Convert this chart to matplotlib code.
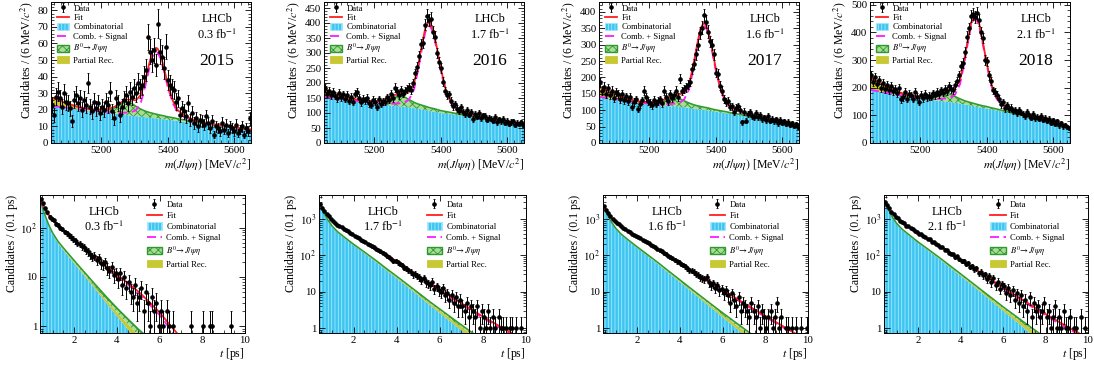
import numpy as np
import matplotlib
matplotlib.use('Agg')
import matplotlib.pyplot as plt
from matplotlib.patches import Patch
from matplotlib.lines import Line2D
from matplotlib.ticker import MultipleLocator, FixedLocator, LogLocator, NullFormatter, FuncFormatter

plt.rcParams['font.family'] = ['Liberation Serif', 'DejaVu Serif']
plt.rcParams['mathtext.fontset'] = 'stix'
plt.rcParams['hatch.linewidth'] = 0.6

years = ['2015', '2016', '2017', '2018']
lumis = ['0.3', '1.7', '1.6', '2.1']

# ---- mass fit: data, 6 MeV bins from 5050 to 5650
mass_data_2015 = [23, 17, 28, 31, 27, 22, 30, 25, 24, 21,
                  13, 26, 29, 24, 27, 20, 26, 23, 36, 22,
                  19, 25, 21, 24, 18, 22, 20, 25, 23, 31,
                  19, 15, 27, 24, 17, 22, 26, 29, 24, 31,
                  28, 33, 30, 36, 33, 35, 40, 44, 64, 55,
                  50, 56, 47, 72, 55, 52, 45, 58, 38, 35,
                  33, 32, 25, 27, 17, 21, 19, 16, 24, 14,
                  18, 12, 15, 10, 14, 13, 11, 16, 12, 9,
                  13, 5, 10, 9, 7, 12, 8, 11, 6, 10,
                  9, 7, 11, 6, 8, 10, 5, 9, 7, 15]
mass_data_2016 = [182, 165, 175, 160, 170, 158, 150, 166, 152, 162,
                  148, 160, 141, 155, 138, 165, 170, 150, 136, 148,
                  142, 150, 133, 128, 144, 137, 120, 146, 131, 139,
                  138, 152, 145, 163, 150, 185, 172, 160, 178, 165,
                  175, 180, 186, 178, 200, 232, 255, 290, 330, 335,
                  395, 425, 410, 415, 370, 355, 300, 270, 250, 205,
                  175, 160, 162, 140, 122, 130, 115, 108, 120, 104,
                  98, 110, 95, 102, 80, 96, 88, 99, 84, 92,
                  90, 78, 85, 81, 74, 86, 70, 79, 72, 80,
                  68, 75, 64, 70, 72, 61, 67, 63, 69, 60]
mass_data_2017 = [185, 160, 172, 150, 168, 145, 160, 138, 155, 150,
                  135, 148, 130, 142, 128, 140, 110, 125, 133, 104,
                  118, 130, 160, 140, 128, 122, 115, 132, 120, 128,
                  133, 122, 160, 140, 128, 150, 138, 145, 160, 140,
                  196, 158, 165, 170, 178, 186, 225, 240, 270, 300,
                  335, 352, 390, 370, 340, 310, 300, 270, 215, 210,
                  175, 160, 135, 125, 128, 110, 112, 95, 108, 112,
                  102, 63, 96, 68, 88, 95, 82, 80, 90, 79,
                  84, 72, 78, 70, 82, 68, 74, 66, 72, 61,
                  70, 62, 66, 58, 64, 55, 60, 52, 57, 50]
mass_data_2018 = [245, 222, 238, 215, 228, 200, 218, 195, 210, 190,
                  205, 188, 196, 180, 200, 158, 165, 185, 160, 178,
                  172, 160, 185, 168, 150, 175, 162, 178, 165, 170,
                  168, 180, 172, 185, 176, 190, 182, 195, 188, 205,
                  196, 190, 210, 225, 245, 280, 290, 330, 385, 415,
                  460, 465, 455, 470, 445, 400, 380, 300, 295, 245,
                  225, 190, 185, 175, 160, 140, 148, 125, 138, 122,
                  128, 115, 120, 108, 118, 110, 104, 96, 112, 100,
                  92, 104, 90, 95, 88, 98, 85, 92, 80, 88,
                  74, 82, 70, 78, 64, 72, 60, 66, 58, 55]

# ---- mass fit components, read at these masses
mass_grid = [5050, 5075, 5100, 5125, 5150, 5175, 5200, 5220, 5240, 5260, 5275, 5290,
             5305, 5320, 5332, 5344, 5354, 5362, 5366, 5370, 5378, 5388, 5400, 5415,
             5430, 5450, 5475, 5500, 5530, 5570, 5610, 5650]

comb_m_2015 = [22.5, 21.8, 21.1, 20.5, 19.9, 19.3, 18.7, 18.2, 17.7, 17.2, 16.9, 16.5,
               16.2, 15.9, 15.6, 15.3, 15.1, 14.9, 14.8, 14.7, 14.5, 14.3, 14.0, 13.7,
               13.3, 12.9, 12.3, 11.7, 11.0, 10.0, 9.0, 8.0]
comb_m_2016 = [154, 150, 147, 143, 139, 135, 132, 129, 126, 124, 122, 121,
               119, 116, 114, 112, 110, 108, 107, 106, 105, 103, 100, 98,
               96, 93, 90, 86, 81, 75, 69, 62]
comb_m_2017 = [141, 137, 133, 129, 125, 121, 118, 116, 114, 112, 111, 110,
               109, 107, 105, 103, 102, 101, 100.5, 100, 99, 97, 95, 93,
               91, 88, 85, 81, 76, 68, 60, 51]
comb_m_2018 = [193, 187, 181, 175, 170, 165, 161, 158, 155, 152, 150, 148,
               146, 143, 140, 137, 135, 133, 132, 131, 129, 127, 125, 121,
               118, 113, 107, 101, 94, 83, 71, 57]

part_m_2015 = [5, 3.8, 2.5, 1.5, 0.8, 0.35, 0.15, 0.05] + [0] * 24
part_m_2016 = [22, 16.5, 11, 6.6, 3.5, 1.5, 0.7, 0.2] + [0] * 24
part_m_2017 = [30, 22.5, 15, 9, 4.8, 2.1, 0.9, 0.3] + [0] * 24
part_m_2018 = [43, 32, 21.5, 13, 6.9, 3, 1.3, 0.4] + [0] * 24

b0_m_2015 = [0, 0, 0.04, 0.08, 0.16, 0.4, 0.96, 1.76, 3.36, 6.24, 7.84, 7.6,
             5.92, 4.48, 3.68, 3.2, 2.88, 2.64, 2.56, 2.48, 2.32, 2.08, 1.84, 1.6,
             1.36, 1.04, 0.56, 0.2, 0.04, 0, 0, 0]
b0_m_2016 = [0, 0, 0.2, 0.4, 0.7, 1.8, 4.2, 7.7, 14.7, 27.3, 34.3, 33.3,
             25.9, 19.6, 16.1, 14, 12.6, 11.6, 11.2, 10.9, 10.2, 9.1, 8.1, 7,
             6, 4.6, 2.5, 0.9, 0.2, 0, 0, 0]
b0_m_2017 = [0, 0, 0.1, 0.3, 0.5, 1.4, 3.2, 5.9, 11.3, 21.1, 26.5, 25.7,
             20, 15.1, 12.4, 10.8, 9.7, 8.9, 8.6, 8.4, 7.8, 7, 6.2, 5.4,
             4.6, 3.5, 1.9, 0.7, 0.1, 0, 0, 0]
b0_m_2018 = [0, 0, 0.2, 0.3, 0.6, 1.5, 3.6, 6.6, 12.6, 23.4, 29.4, 28.5,
             22.2, 16.8, 13.8, 12, 10.8, 9.9, 9.6, 9.3, 8.7, 7.8, 6.9, 6,
             5.1, 3.9, 2.1, 0.8, 0.2, 0, 0, 0]

sig_m_2015 = [0, 0, 0.1, 0.1, 0.2, 0.2, 0.4, 0.5, 0.7, 1.0, 1.4, 2.0,
              3.6, 8.8, 18, 28.8, 36.8, 39.6, 40, 39.6, 36.8, 29.6, 20, 10.4,
              5.2, 2.6, 1.4, 0.9, 0.6, 0.3, 0.2, 0.1]
sig_m_2016 = [0, 0, 0.6, 0.8, 1.1, 1.7, 2.5, 3.4, 4.8, 7.1, 9.9, 14.2,
              25.5, 62.3, 127, 204, 260, 280, 283, 280, 260, 209, 142, 74,
              37, 18.4, 9.9, 6.2, 4.0, 2.3, 1.4, 0.8]
sig_m_2017 = [0, 0, 0.5, 0.8, 1.0, 1.5, 2.3, 3.1, 4.4, 6.4, 9.0, 12.8,
              23, 56.3, 115, 184, 236, 253, 256, 253, 236, 189, 128, 67,
              33, 16.6, 9.0, 5.6, 3.6, 2.0, 1.3, 0.8]
sig_m_2018 = [0, 0, 0.6, 0.9, 1.3, 1.9, 2.8, 3.8, 5.4, 7.9, 11.1, 15.8,
              28.4, 69.5, 142, 228, 291, 313, 316, 313, 291, 234, 158, 82,
              41, 20.5, 11.1, 7.0, 4.4, 2.5, 1.6, 0.9]

# ---- decay time: data, 0.1 ps bins from 0.4 to 10 ps
time_data_2015 = [380, 310, 245, 205, 165, 150,
                  140, 120, 112, 100, 95, 82, 78, 70, 65, 60,
                  55, 50, 47, 42, 40, 35, 33, 29, 26, 27,
                  22, 24, 19, 18, 20, 15, 13, 16, 11, 12,
                  9, 12, 7, 10, 6, 8, 5, 4, 7, 3,
                  4, 6, 2, 5, 3, 1, 4, 2, 3, 1,
                  2, 1, 0, 2, 1, 0, 1, 0, 0, 0,
                  0, 0, 0, 0, 1, 0, 0, 0, 0, 0,
                  1, 0, 0, 1, 1, 0, 0, 0, 0, 0,
                  0, 0, 0, 1, 0, 0, 0, 0, 0, 0]
time_data_2016 = [2600, 2050, 1700, 1420, 1180, 1000,
                  900, 800, 700, 660, 590, 540, 500, 455, 420, 385,
                  350, 330, 300, 270, 250, 232, 210, 190, 178, 165,
                  150, 140, 128, 118, 108, 96, 88, 82, 72, 70,
                  64, 58, 54, 46, 44, 40, 35, 30, 31, 27,
                  25, 21, 24, 18, 17, 15, 19, 12, 14, 11,
                  10, 13, 8, 9, 6, 8, 5, 7, 4, 6,
                  4, 3, 5, 2, 4, 3, 2, 4, 1, 3,
                  2, 1, 3, 1, 2, 1, 0, 2, 1, 1,
                  1, 0, 1, 1, 0, 1, 0, 1, 0, 0]
time_data_2017 = [2250, 1800, 1500, 1250, 1030, 900,
                  780, 720, 640, 580, 530, 480, 445, 400, 375, 345,
                  315, 295, 270, 250, 228, 215, 198, 180, 165, 150,
                  138, 128, 116, 110, 98, 90, 84, 76, 68, 65,
                  58, 55, 50, 45, 40, 38, 35, 31, 29, 25,
                  24, 22, 26, 18, 15, 17, 13, 15, 11, 12,
                  9, 11, 8, 5, 9, 6, 4, 7, 3, 5,
                  4, 3, 2, 5, 3, 2, 4, 1, 3, 2,
                  1, 2, 3, 1, 2, 5, 1, 2, 0, 1,
                  1, 0, 1, 0, 1, 0, 1, 0, 0, 1]
time_data_2018 = [2950, 2380, 1990, 1580, 1380, 1140,
                  1050, 890, 830, 760, 665, 640, 555, 540, 470, 450,
                  400, 380, 335, 320, 280, 275, 240, 232, 205, 190,
                  172, 168, 145, 140, 118, 112, 108, 90, 95, 78,
                  72, 70, 58, 62, 48, 52, 41, 45, 32, 36,
                  28, 30, 22, 27, 18, 24, 15, 19, 12, 16,
                  14, 9, 13, 8, 11, 6, 9, 5, 8, 4,
                  6, 3, 7, 2, 5, 3, 4, 2, 3, 5,
                  2, 3, 1, 2, 4, 1, 2, 1, 3, 1,
                  1, 2, 0, 1, 1, 0, 2, 0, 1, 0]

# ---- decay time fit components, read at these times
time_grid = [0.4, 0.6, 0.8, 1.0, 1.25, 1.5, 2, 2.5, 3, 3.5, 4, 4.5,
             5, 5.5, 6, 6.5, 7, 7.5, 8, 8.5, 9, 9.5, 10]

comb_t_2015 = [360, 190, 110, 72, 48, 35, 19, 10.3, 5.6, 3.0, 1.62, 0.88,
               0.47, 0.26, 0.14, 0.075, 0.04, 0.022, 0.012, 0.0065, 0.0035, 0.0019, 0.001]
comb_t_2016 = [2700, 1550, 930, 620, 430, 325, 190, 115, 69, 40, 23.5, 13.7,
               7.9, 4.5, 2.6, 1.5, 0.86, 0.5, 0.29, 0.17, 0.1, 0.06, 0.035]
comb_t_2017 = [2200, 1300, 790, 530, 365, 275, 160, 95, 56, 32, 18.5, 10.6,
               6.1, 3.5, 2.0, 1.15, 0.66, 0.38, 0.22, 0.13, 0.075, 0.043, 0.025]
comb_t_2018 = [3100, 1800, 1080, 720, 500, 380, 220, 133, 80, 47, 27.5, 16,
               9.2, 5.3, 3.0, 1.75, 1.0, 0.58, 0.33, 0.19, 0.11, 0.06, 0.035]

part_t_2015 = [4, 3.2, 2.6, 2.1, 1.7, 1.4, 0.95, 0.7, 0.52, 0.4, 0.3, 0.24,
               0.19, 0.15, 0.11, 0.085, 0.065, 0.05, 0.038, 0.029, 0.022, 0.017, 0.013]
part_t_2016 = [26, 19, 14, 10, 7.8, 6, 4.3, 3.3, 2.4, 1.8, 1.3, 0.95,
               0.7, 0.5, 0.38, 0.28, 0.21, 0.15, 0.11, 0.08, 0.06, 0.045, 0.035]
part_t_2017 = [22, 16, 12, 9, 7, 5.3, 3.8, 2.8, 2.1, 1.5, 1.1, 0.8,
               0.58, 0.42, 0.31, 0.23, 0.17, 0.12, 0.09, 0.065, 0.048, 0.035, 0.025]
part_t_2018 = [30, 22, 16, 12, 9, 7, 5, 3.8, 2.8, 2.1, 1.5, 1.1,
               0.8, 0.6, 0.45, 0.33, 0.25, 0.18, 0.13, 0.1, 0.07, 0.05, 0.04]

b0_t_2015 = [5.5, 4.6, 3.9, 3.3, 2.7, 2.3, 1.65, 1.2, 0.85, 0.6, 0.43, 0.31,
             0.22, 0.16, 0.115, 0.083, 0.06, 0.043, 0.031, 0.022, 0.016, 0.012, 0.008]
b0_t_2016 = [35, 30, 26, 22, 17, 14, 9.5, 6.5, 4.3, 2.9, 1.9, 1.2,
             0.82, 0.54, 0.36, 0.24, 0.16, 0.1, 0.07, 0.045, 0.03, 0.02, 0.013]
b0_t_2017 = [30, 26, 22, 18, 14.5, 12, 8.2, 5.6, 3.7, 2.5, 1.65, 1.08,
             0.72, 0.48, 0.32, 0.21, 0.14, 0.09, 0.06, 0.04, 0.027, 0.018, 0.012]
b0_t_2018 = [40, 35, 30, 25, 20, 16, 11, 7.5, 5, 3.3, 2.2, 1.4,
             0.95, 0.62, 0.41, 0.27, 0.18, 0.12, 0.08, 0.05, 0.035, 0.023, 0.015]

sig_t_2015 = [25, 55, 68, 68, 60, 50, 36, 25, 17.5, 12.5, 8.8, 6.2,
              4.2, 2.6, 1.55, 0.8, 0.42, 0.22, 0.12, 0.065, 0.035, 0.019, 0.01]
sig_t_2016 = [130, 265, 290, 280, 255, 215, 162, 118, 85, 60, 41, 28,
              18.5, 12.3, 8.2, 5.4, 3.6, 2.4, 1.6, 1.1, 0.75, 0.52, 0.36]
sig_t_2017 = [120, 240, 265, 255, 232, 198, 150, 110, 80, 57, 40, 27.5,
              18.7, 12.7, 8.6, 5.8, 3.9, 2.65, 1.8, 1.22, 0.83, 0.56, 0.38]
sig_t_2018 = [150, 300, 330, 320, 290, 245, 185, 135, 97, 68, 47, 32,
              21, 14, 9.4, 6.2, 4.2, 2.8, 1.9, 1.3, 0.9, 0.63, 0.44]

mass_bins = 5053 + 6 * np.arange(100)
time_bins = 0.45 + 0.1 * np.arange(96)

cyan = '#3ec6f3'
stripe = '#a6e6fb'
olive = '#c8c832'
green = '#2e9a2e'
green_fill = '#a9dc98'
red = '#ff1f1f'
magenta = '#ff1aff'

b0_label = r'$B^0\!\rightarrow\!J/\psi\eta$'


def style(ax):
    ax.tick_params(which='both', direction='in', top=True, right=True, labelsize=7.8, pad=2)
    ax.tick_params(which='major', length=4, width=0.6)
    ax.tick_params(which='minor', length=2, width=0.5)
    for s in ax.spines.values():
        s.set_linewidth(0.7)


def draw_components(ax, grid, comb, part, b0, sig, floor):
    comb = np.array(comb, float)
    lo = comb + np.array(part)
    top = lo + np.array(b0)
    fit = top + np.array(sig)
    cs = comb + np.array(sig)
    ax.fill_between(grid, floor, comb, facecolor=cyan, edgecolor=stripe, hatch='|||||', lw=0)
    ax.fill_between(grid, comb, lo, facecolor=olive, lw=0)
    ax.fill_between(grid, lo, top, facecolor=green_fill, edgecolor=green, hatch='xxxx', lw=0)
    ax.plot(grid, top, color=green, lw=1.1)
    ax.plot(grid, cs, color=magenta, lw=1.3, dashes=(5, 2.5))
    ax.plot(grid, fit, color=red, lw=1.3)


def draw_data(ax, x, counts, floor=None):
    d = np.array(counts, float)
    keep = d > 0
    eb = ax.errorbar(x[keep], d[keep], yerr=np.sqrt(d[keep]), fmt='o', ms=2.3, color='k',
                     elinewidth=0.7, capsize=0.9, capthick=0.6)
    if floor is not None:
        # empty bins sit on the lower edge of the log axis
        empty = ~keep
        ax.errorbar(x[empty], np.full(empty.sum(), floor), xerr=0.03, fmt='none',
                    ecolor='k', elinewidth=0.6, alpha=0.6)
    return eb


def add_legend(ax, eb, anchor, spacing, hlen):
    handles = [eb,
               Line2D([], [], color=red, lw=1.3),
               Patch(facecolor=cyan, edgecolor=stripe, hatch='|||||', lw=0.6),
               Line2D([], [], color=magenta, lw=1.3, dashes=(5, 2.5)),
               Patch(facecolor=green_fill, edgecolor=green, hatch='xxxx', lw=1.0),
               Patch(facecolor=olive, edgecolor=olive, lw=0.6)]
    labels = ['Data', 'Fit', 'Combinatorial', 'Comb. + Signal', b0_label, 'Partial Rec.']
    ax.legend(handles, labels, loc='upper left', bbox_to_anchor=anchor, frameon=False,
              fontsize=6.2, handlelength=hlen, handleheight=0.9, labelspacing=spacing,
              handletextpad=0.5, borderaxespad=0.0, borderpad=0.0)


fig = plt.figure(figsize=(10.94, 3.67), dpi=100)
W, H = 1094.0, 367.0

top_left = [51, 324, 599, 870]
top_right = [251, 524, 799, 1070]
bot_left = [40, 319, 603, 884]
bot_right = [245, 526, 808, 1088]

mass_sets = [
    (mass_data_2015, comb_m_2015, part_m_2015, b0_m_2015, sig_m_2015, 85, 10, 2),
    (mass_data_2016, comb_m_2016, part_m_2016, b0_m_2016, sig_m_2016, 470, 50, 10),
    (mass_data_2017, comb_m_2017, part_m_2017, b0_m_2017, sig_m_2017, 430, 50, 10),
    (mass_data_2018, comb_m_2018, part_m_2018, b0_m_2018, sig_m_2018, 510, 100, 20),
]
time_sets = [
    (time_data_2015, comb_t_2015, part_t_2015, b0_t_2015, sig_t_2015, 460),
    (time_data_2016, comb_t_2016, part_t_2016, b0_t_2016, sig_t_2016, 4600),
    (time_data_2017, comb_t_2017, part_t_2017, b0_t_2017, sig_t_2017, 4600),
    (time_data_2018, comb_t_2018, part_t_2018, b0_t_2018, sig_t_2018, 4600),
]


def log_label(v, pos):
    if v == 1:
        return '1'
    if v == 10:
        return '10'
    return r'$10^{%d}$' % int(round(np.log10(v)))


for k in range(4):
    # mass panel
    data, comb, part, b0, sig, ymax, ystep, yminor = mass_sets[k]
    ax = fig.add_axes([top_left[k] / W, (H - 143) / H, (top_right[k] - top_left[k]) / W, 141 / H])
    draw_components(ax, mass_grid, comb, part, b0, sig, 0)
    eb = draw_data(ax, mass_bins, data)
    ax.set_xlim(5050, 5650)
    ax.set_ylim(0, ymax)
    ax.xaxis.set_major_locator(FixedLocator([5200, 5400, 5600]))
    ax.xaxis.set_minor_locator(MultipleLocator(20))
    ax.yaxis.set_major_locator(MultipleLocator(ystep))
    ax.yaxis.set_minor_locator(MultipleLocator(yminor))
    style(ax)
    ax.set_ylabel('Candidates / (6 MeV/$c^2$)', fontsize=8.5, loc='top', labelpad=2)
    ax.set_xlabel(r'$m(J/\psi\eta)$ [MeV/$c^2$]', fontsize=8.5, loc='right', labelpad=1)
    add_legend(ax, eb, (0.03, 0.985), 0.1, 1.4)
    ax.text(0.83, 0.88, 'LHCb', transform=ax.transAxes, ha='center', va='center', fontsize=8.8)
    ax.text(0.83, 0.77, lumis[k] + r' fb$^{-1}$', transform=ax.transAxes, ha='center',
            va='center', fontsize=8.8)
    ax.text(0.83, 0.58, years[k], transform=ax.transAxes, ha='center', va='center', fontsize=12.5)

    # decay-time panel
    data, comb, part, b0, sig, ymax = time_sets[k]
    ax = fig.add_axes([bot_left[k] / W, (H - 333) / H, (bot_right[k] - bot_left[k]) / W, 138 / H])
    ax.set_yscale('log')
    draw_components(ax, time_grid, comb, part, b0, sig, 1e-3)
    eb = draw_data(ax, time_bins, data, floor=0.745)
    ax.set_xlim(0.4, 10)
    ax.set_ylim(0.73, ymax)
    ax.xaxis.set_major_locator(FixedLocator([2, 4, 6, 8, 10]))
    ax.xaxis.set_minor_locator(MultipleLocator(0.5))
    ax.yaxis.set_major_locator(FixedLocator([1, 10, 100, 1000]))
    ax.yaxis.set_major_formatter(FuncFormatter(log_label))
    ax.yaxis.set_minor_locator(LogLocator(base=10, subs=np.arange(2, 10)))
    ax.yaxis.set_minor_formatter(NullFormatter())
    style(ax)
    ax.set_ylabel('Candidates / (0.1 ps)', fontsize=8.5, loc='top', labelpad=2)
    ax.set_xlabel(r'$t$ [ps]', fontsize=8.5, loc='right', labelpad=1)
    add_legend(ax, eb, (0.52, 0.96), 0.28, 1.8)
    ax.text(0.31, 0.88, 'LHCb', transform=ax.transAxes, ha='center', va='center', fontsize=8.8)
    ax.text(0.31, 0.77, lumis[k] + r' fb$^{-1}$', transform=ax.transAxes, ha='center',
            va='center', fontsize=8.8)

fig.savefig('out.png', dpi=100)
